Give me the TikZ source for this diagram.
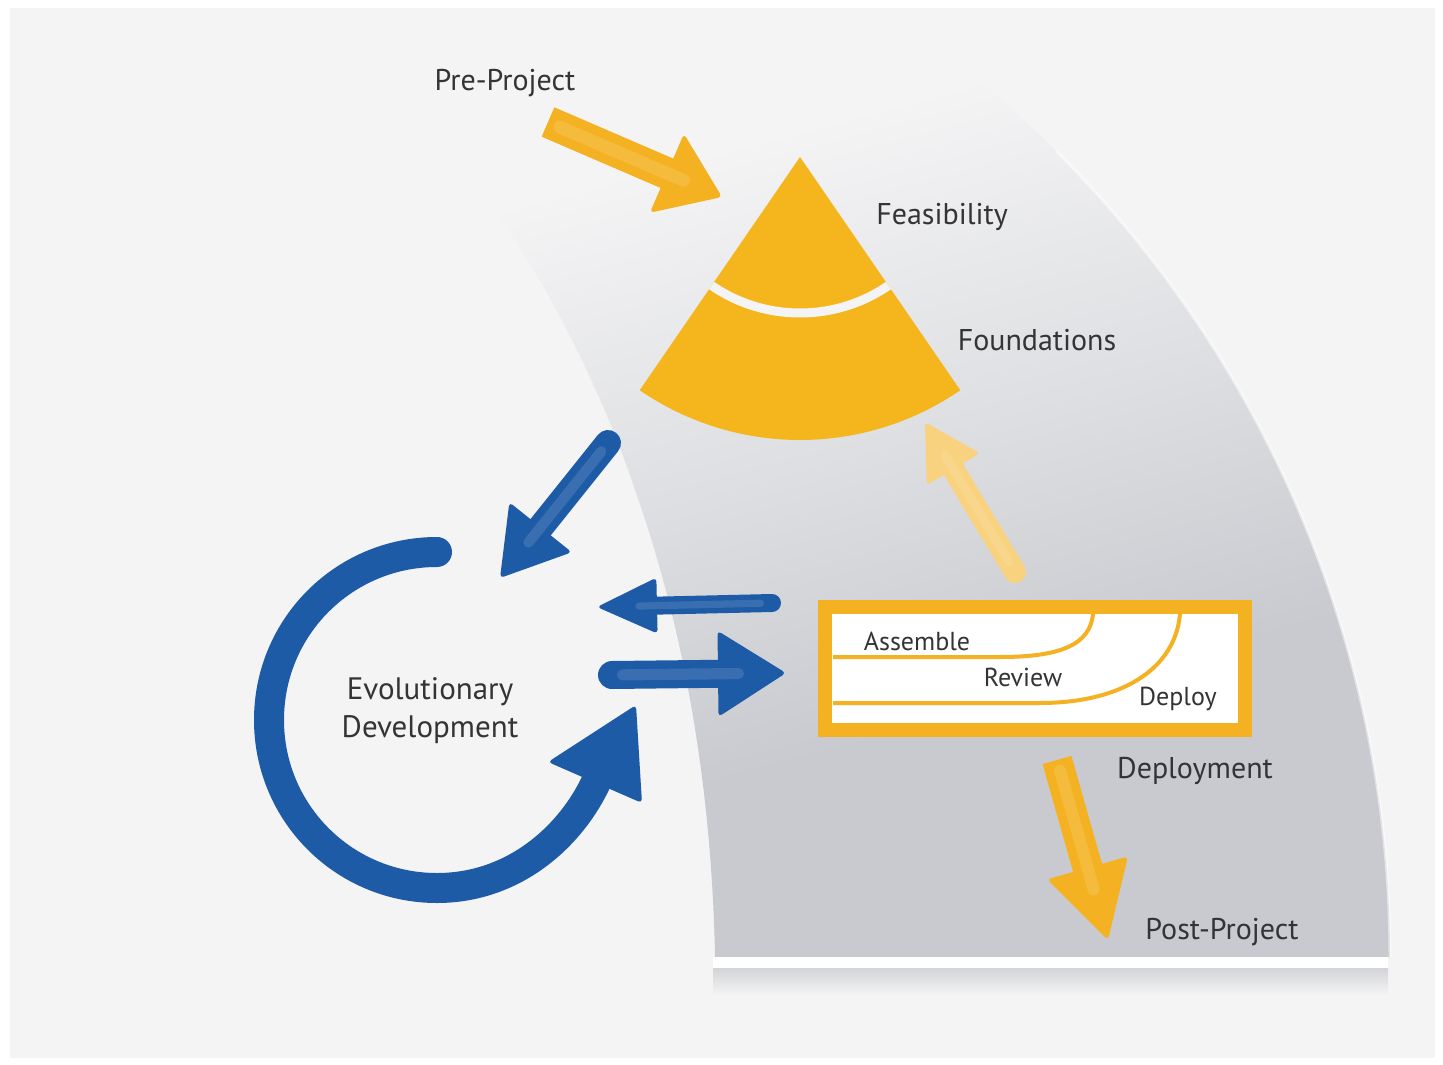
\documentclass[tikz,border=0pt]{standalone}
\usepackage{fontspec}
\setmainfont{PT Sans}
\usetikzlibrary{calc}
\definecolor{yel}{HTML}{F4B223}
\definecolor{secyel}{HTML}{F5B51C}
\definecolor{lyel}{HTML}{F8D27E}
\definecolor{blu}{HTML}{1E5BA6}
\definecolor{txt}{HTML}{343436}
\definecolor{bg}{HTML}{F4F4F5}
\definecolor{bandmid}{HTML}{DEDFE2}
\definecolor{bandlo}{HTML}{C9CACF}
\definecolor{shadowc}{HTML}{D3D4D7}
\pgfdeclareverticalshading{bandshade}{100bp}{color(0bp)=(bandlo); color(37bp)=(bandlo); color(52bp)=(bandmid); color(69bp)=(bg); color(100bp)=(bg)}
\newcommand\fatarrow[7]{%
  \coordinate (hb) at ($(#3)!#5!(#2)$);
  \draw[#1, line width=#4, line cap=#7] (#2) -- ($(hb)!3pt!(#3)$);
  \fill[#1, rounded corners=4pt] (#3) -- ($(hb)!#6!90:(#3)$) -- ($(hb)!#6!-90:(#3)$) -- cycle;
  \draw[white, opacity=.12, line width=0.4*#4, line cap=round] ($(#2)!0.1!(hb)$) -- ($(hb)!0.3!(#3)$);
}
\begin{document}
\begin{tikzpicture}[x=1pt,y=-1pt,
  lbl/.style={text=txt,font=\fontsize{30}{38}\selectfont,inner sep=0pt,align=center},
  boxlbl/.style={text=txt,font=\fontsize{26}{28}\selectfont,inner sep=0pt}]
\useasboundingbox (0,0) rectangle (1443,1065);
\fill[white] (0,0) rectangle (1443,1065);
\fill[bg] (10,8) rectangle (1435,1058);
% grey band
\path[shading=bandshade, shading angle=15]
  (715,957) -- (1390,957) arc[start angle=0, end angle=55.5, radius=1140pt]
  -- (330,20) .. controls (480,150) and (585,340) .. (635,490)
  .. controls (688,640) and (712,800) .. (715,957) -- cycle;
\draw[white, opacity=.5, line width=3pt] (1390,957) arc[start angle=0, end angle=45, radius=1140pt];
\fill[white] (713,957) rectangle (1388,968);
\fill[top color=shadowc, bottom color=bg] (713,968) rectangle (1388,995);
% sector
\coordinate (apex) at (800,157);
\path[fill=secyel] (apex) -- ++(235.5:283pt) arc[start angle=235.5, end angle=304.5, radius=283pt] -- cycle;
\begin{scope}
  \clip (apex) -- ++(235.5:283pt) arc[start angle=235.5, end angle=304.5, radius=283pt] -- cycle;
  \draw[bg, line width=9pt] ($(apex)+(226:156pt)$) arc[start angle=226, end angle=314, radius=156pt];
\end{scope}
% labels
\node[lbl] (pre) at (505,83) {Pre-Project};
\node[lbl] (feas) at (942,217) {Feasibility};
\node[lbl] (found) at (1037,340) {Foundations};
\node[lbl, font=\fontsize{31}{38}\selectfont] (evo) at (430,711) {Evolutionary\\Development};
\node[lbl] (depl) at (1195,771) {Deployment};
\node[lbl] (post) at (1222,932) {Post-Project};
% deployment box
\node[draw=yel, line width=14pt, fill=white, minimum width=420pt, minimum height=123pt, inner sep=0pt] (box) at (1035,668.5) {};
\draw[yel, line width=4pt] (833,657) -- (1000,657) .. controls (1060,657) and (1090,645) .. (1093,614);
\draw[yel, line width=4pt] (833,703) -- (1040,703) .. controls (1120,703) and (1175,670) .. (1180,614);
\node[boxlbl] (asm) at (917,641) {Assemble};
\node[boxlbl] (rev) at (1023,677) {Review};
\node[boxlbl] (dep) at (1178,699) {Deploy};
% arrows
\coordinate (ppA) at (548,122); \coordinate (ppB) at (722,197);
\fatarrow{yel}{ppA}{ppB}{32pt}{60pt}{43pt}{butt}
\coordinate (fbA) at (1015,572); \coordinate (fbB) at (925,422);
\fatarrow{lyel}{fbA}{fbB}{22pt}{55pt}{31pt}{round}
\coordinate (dnA) at (1057,760); \coordinate (dnB) at (1108,940);
\fatarrow{yel}{dnA}{dnB}{30pt}{75pt}{42pt}{butt}
\coordinate (bdA) at (608,443); \coordinate (bdB) at (500,578);
\fatarrow{blu}{bdA}{bdB}{26pt}{65pt}{40pt}{round}
\coordinate (blA) at (772,603); \coordinate (blB) at (597,607);
\fatarrow{blu}{blA}{blB}{18pt}{60pt}{28pt}{round}
\coordinate (brA) at (612,675); \coordinate (brB) at (786,673);
\fatarrow{blu}{brA}{brB}{28pt}{68pt}{43pt}{round}
% circular arrow
\coordinate (cS) at (437,552); \coordinate (cL) at (269,720); \coordinate (cB) at (437,888);
\coordinate (cE) at (597,780); \coordinate (cT) at (636,705);
\draw[blu, line width=30pt, line cap=round] (cS) .. controls (344,552) and (269,627) .. (cL)
  .. controls (269,813) and (344,888) .. (cB) .. controls (515,888) and (572,835) .. (cE);
\fill[blu, rounded corners=4pt] (cT) -- (548,762) -- (642,803) -- cycle;
\end{tikzpicture}
\end{document}
